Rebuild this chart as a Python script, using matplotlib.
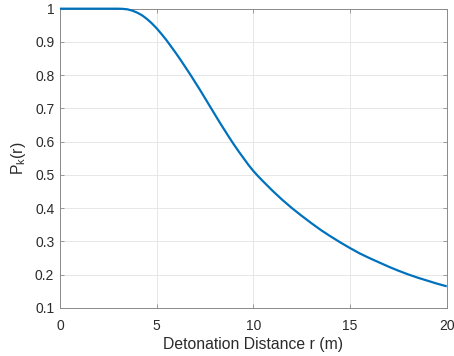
import matplotlib
matplotlib.use("Agg")
import matplotlib.pyplot as plt

r_vals = [0, 1, 2, 3, 3.25, 3.5, 3.75, 4, 4.25, 4.5, 4.75, 5, 5.25, 5.5, 5.75,
          6, 6.25, 6.5, 6.75, 7, 7.25, 7.5, 7.75, 8, 8.25, 8.5, 8.75, 9, 9.25,
          9.5, 9.75, 10, 10.25, 10.5, 11, 11.5, 12, 12.5, 13, 13.5, 14, 14.5,
          15, 15.5, 16, 16.5, 17, 17.5, 18, 18.5, 19, 19.5, 20]
pk_vals = [1.0, 1.0, 1.0, 1.0, 0.9995, 0.998, 0.994, 0.988, 0.980, 0.969,
           0.956, 0.941, 0.924, 0.906, 0.886, 0.866, 0.845, 0.823, 0.801,
           0.778, 0.755, 0.731, 0.707, 0.683, 0.659, 0.636, 0.613, 0.591,
           0.570, 0.550, 0.530, 0.512, 0.496, 0.481, 0.452, 0.425, 0.400,
           0.377, 0.355, 0.334, 0.315, 0.297, 0.280, 0.264, 0.250, 0.237,
           0.224, 0.212, 0.201, 0.191, 0.182, 0.173, 0.165]
x_ticks = [0, 5, 10, 15, 20]
y_ticks = [0.1, 0.2, 0.3, 0.4, 0.5, 0.6, 0.7, 0.8, 0.9, 1]
y_ticklabels = ["0.1", "0.2", "0.3", "0.4", "0.5", "0.6", "0.7", "0.8", "0.9", "1"]

plt.rcParams['font.family'] = ['Liberation Sans', 'DejaVu Sans']
plt.rcParams['mathtext.fontset'] = 'custom'
plt.rcParams['mathtext.rm'] = 'Liberation Sans'
plt.rcParams['mathtext.it'] = 'Liberation Sans'

fig = plt.figure(figsize=(4.54, 3.56), dpi=100)
ax = fig.add_axes([0.132, 0.135, 0.852, 0.8406])

ax.plot(r_vals, pk_vals, color='#0072BD', linewidth=1.6,
        solid_capstyle='butt', solid_joinstyle='round', clip_on=False, zorder=5)

ax.set_xlim(0, 20)
ax.set_ylim(0.1, 1)
ax.set_xticks(x_ticks)
ax.set_yticks(y_ticks)
ax.set_yticklabels(y_ticklabels)

txt = '#2b2b2b'
ax.grid(True, color='#e3e3e3', linewidth=0.6)
ax.set_axisbelow(True)
for s in ax.spines.values():
    s.set_color('#8a8a8a')
    s.set_linewidth(0.7)
    s.set_zorder(2)
ax.tick_params(direction='in', length=3, width=0.6, color='#8a8a8a',
               labelsize=10, labelcolor=txt, top=True, right=True)
ax.tick_params(axis='x', pad=8)
ax.tick_params(axis='y', pad=4)

ax.set_xlabel('Detonation Distance r (m)', fontsize=11.3, color=txt, labelpad=3)
ax.set_ylabel(r'P$_\mathrm{k}$(r)', fontsize=11.3, color=txt, labelpad=5)

fig.savefig('out.png', dpi=100)
